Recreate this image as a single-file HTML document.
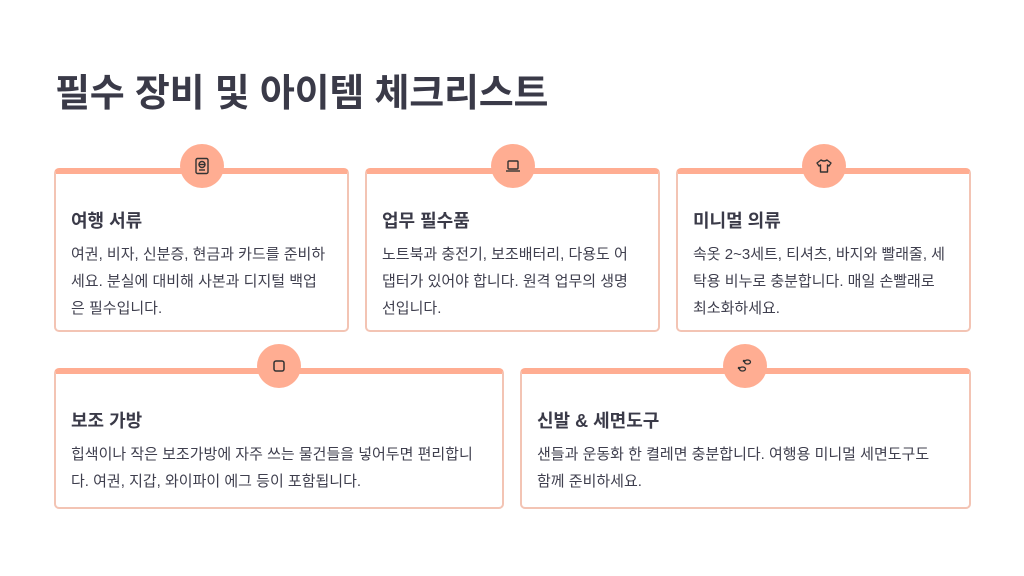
<!DOCTYPE html>
<html><head><meta charset="utf-8"><style>
body{margin:0;width:1024px;height:576px;background:#fff;font-family:"Liberation Sans","Noto Sans CJK KR",sans-serif;color:#3b3b4a;position:relative;overflow:hidden}
h1{position:absolute;left:55px;top:62px;margin:0;font-size:38px;font-weight:700;color:#3a3a48;letter-spacing:-0.2px}
.card{position:absolute;box-sizing:border-box;border:2px solid #f3c4b4;border-top:6px solid #ffad92;border-radius:5px;background:#fff}
.c{position:absolute;width:44px;height:44px;border-radius:50%;background:#ffad92;top:-30px;display:flex;align-items:center;justify-content:center}
.card h2{position:absolute;left:15px;margin:0;font-size:18px;font-weight:700;color:#3a3a48}
.card p{position:absolute;left:15px;right:20px;margin:0;font-size:15px;line-height:27px;color:#3f3f4e}
</style></head><body>
<h1>필수 장비 및 아이템 체크리스트</h1>

<div class="card" style="left:54px;top:168px;width:295px;height:164px">
<div class="c" style="left:124px"><svg width="18" height="18" viewBox="0 0 18 18" fill="none" stroke="#333" stroke-width="1.4"><rect x="3" y="1.5" width="12" height="15" rx="1.5"/><circle cx="9" cy="7.5" r="3"/><line x1="6" y1="7.5" x2="12" y2="7.5"/><line x1="6" y1="13" x2="12" y2="13"/></svg></div>
<h2 style="top:33px">여행 서류</h2>
<p style="top:67px">여권, 비자, 신분증, 현금과 카드를 준비하세요. 분실에 대비해 사본과 디지털 백업<br>은 필수입니다.</p>
</div>

<div class="card" style="left:365px;top:168px;width:295px;height:164px">
<div class="c" style="left:124px"><svg width="18" height="18" viewBox="0 0 18 18" fill="none" stroke="#333" stroke-width="1.4"><rect x="4" y="4" width="10" height="8" rx="1"/><line x1="2" y1="14" x2="16" y2="14"/></svg></div>
<h2 style="top:33px">업무 필수품</h2>
<p style="top:67px">노트북과 충전기, 보조배터리, 다용도 어<br>댑터가 있어야 합니다. 원격 업무의 생명<br>선입니다.</p>
</div>

<div class="card" style="left:676px;top:168px;width:295px;height:164px">
<div class="c" style="left:124px"><svg width="18" height="18" viewBox="0 0 18 18" fill="none" stroke="#333" stroke-width="1.4" stroke-linejoin="round"><path d="M6 3 L2 6 L4 9 L5.5 8 L5.5 15 L12.5 15 L12.5 8 L14 9 L16 6 L12 3 Q9 5 6 3Z"/></svg></div>
<h2 style="top:33px">미니멀 의류</h2>
<p style="top:67px">속옷 2~3세트, 티셔츠, 바지와 빨래줄, 세<br>탁용 비누로 충분합니다. 매일 손빨래로<br>최소화하세요.</p>
</div>

<div class="card" style="left:54px;top:368px;width:450px;height:141px">
<div class="c" style="left:201px"><svg width="18" height="18" viewBox="0 0 18 18" fill="none" stroke="#333" stroke-width="1.5"><rect x="4" y="4" width="10" height="10" rx="2"/></svg></div>
<h2 style="top:33px">보조 가방</h2>
<p style="top:67px;right:5px">힙색이나 작은 보조가방에 자주 쓰는 물건들을 넣어두면 편리합니<br>다. 여권, 지갑, 와이파이 에그 등이 포함됩니다.</p>
</div>

<div class="card" style="left:520px;top:368px;width:451px;height:141px">
<div class="c" style="left:201px"><svg width="18" height="18" viewBox="0 0 18 18" fill="none" stroke="#333" stroke-width="1.3"><ellipse cx="11.5" cy="5" rx="3" ry="2"/><ellipse cx="6.5" cy="12" rx="3" ry="2"/><circle cx="8" cy="4" r="0.6"/><circle cx="3" cy="11" r="0.6"/></svg></div>
<h2 style="top:33px">신발 &amp; 세면도구</h2>
<p style="top:67px;right:5px">샌들과 운동화 한 켤레면 충분합니다. 여행용 미니멀 세면도구도<br>함께 준비하세요.</p>
</div>
</body></html>
